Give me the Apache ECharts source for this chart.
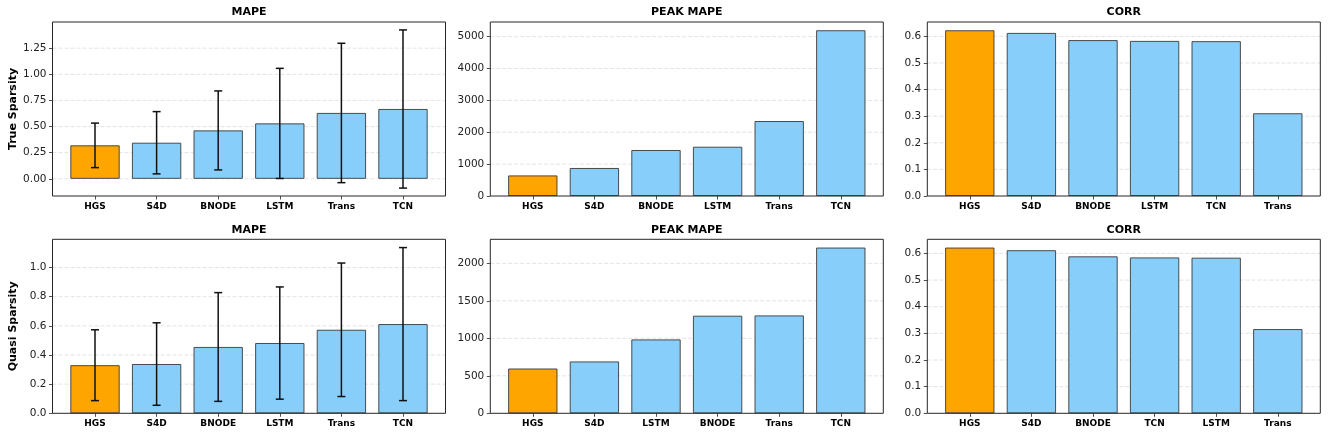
<!DOCTYPE html>
<html>
<head>
<meta charset="utf-8">
<script src="https://cdn.jsdelivr.net/npm/echarts@6/dist/echarts.min.js"></script>
<style>
html,body{margin:0;padding:0;background:#fff;}
#main{width:1328px;height:437px;}
</style>
</head>
<body>
<div id="main"></div>
<script>
// ---------- data ----------
const topMapeCats = ['HGS', 'S4D', 'BNODE', 'LSTM', 'Trans', 'TCN'];
const topMapeMean = [0.320, 0.345, 0.463, 0.530, 0.630, 0.668];
const topMapeErr  = [0.213, 0.298, 0.378, 0.527, 0.667, 0.757];
const topMapeTicks = [0, 0.25, 0.5, 0.75, 1.0, 1.25];

const topPeakCats = ['HGS', 'S4D', 'BNODE', 'LSTM', 'Trans', 'TCN'];
const topPeakVals = [645, 878, 1442, 1545, 2351, 5200];
const topPeakTicks = [0, 1000, 2000, 3000, 4000, 5000];

const topCorrCats = ['HGS', 'S4D', 'BNODE', 'LSTM', 'TCN', 'Trans'];
const topCorrVals = [0.623, 0.613, 0.586, 0.583, 0.582, 0.311];
const corrTicks = [0, 0.1, 0.2, 0.3, 0.4, 0.5, 0.6];

const botMapeCats = ['HGS', 'S4D', 'BNODE', 'LSTM', 'Trans', 'TCN'];
const botMapeMean = [0.330, 0.338, 0.455, 0.482, 0.573, 0.612];
const botMapeErr  = [0.243, 0.283, 0.373, 0.385, 0.458, 0.525];
const botMapeTicks = [0, 0.2, 0.4, 0.6, 0.8, 1.0];

const botPeakCats = ['HGS', 'S4D', 'LSTM', 'BNODE', 'Trans', 'TCN'];
const botPeakVals = [597, 691, 985, 1301, 1305, 2210];
const botPeakTicks = [0, 500, 1000, 1500, 2000];

const botCorrCats = ['HGS', 'S4D', 'BNODE', 'TCN', 'LSTM', 'Trans'];
const botCorrVals = [0.622, 0.612, 0.589, 0.585, 0.584, 0.316];

const rowLabels = ['True Sparsity', 'Quasi Sparsity'];

// ---------- layout ----------
const FONT = 'DejaVu Sans';
const lefts = [52.5, 490.3, 927.3];
const tops = [22, 239.3];
const W = 393, H = 174;
const XMIN = -0.69, XMAX = 5.69;
const barW = W / (XMAX - XMIN) * 0.8;
const ORANGE = '#FFA500', BLUE = '#87CEFA';

const panels = [
  {row:0, col:0, title:'MAPE', cats:topMapeCats, vals:topMapeMean, err:topMapeErr, ticks:topMapeTicks, dec:2},
  {row:0, col:1, title:'PEAK MAPE', cats:topPeakCats, vals:topPeakVals, ticks:topPeakTicks, dec:0},
  {row:0, col:2, title:'CORR', cats:topCorrCats, vals:topCorrVals, ticks:corrTicks, dec:1},
  {row:1, col:0, title:'MAPE', cats:botMapeCats, vals:botMapeMean, err:botMapeErr, ticks:botMapeTicks, dec:1},
  {row:1, col:1, title:'PEAK MAPE', cats:botPeakCats, vals:botPeakVals, ticks:botPeakTicks, dec:0},
  {row:1, col:2, title:'CORR', cats:botCorrCats, vals:botCorrVals, ticks:corrTicks, dec:1}
];

const grid = [], xAxis = [], yAxis = [], series = [], title = [];

panels.forEach((p, k) => {
  // matplotlib-like autoscale with 5% margins (bars sticky at 0)
  let lo = 0, hi = 0;
  p.vals.forEach((v, i) => {
    const e = p.err ? p.err[i] : 0;
    lo = Math.min(lo, v - e);
    hi = Math.max(hi, v + e);
  });
  const r = hi - lo;
  const ymin = lo < 0 ? lo - 0.05 * r : 0;
  const ymax = hi + 0.05 * r;

  grid.push({left: lefts[p.col], top: tops[p.row], width: W, height: H, z: 3,
    show: true, borderColor: '#262626', borderWidth: 1, backgroundColor: 'transparent'});

  title.push({text: p.title, left: lefts[p.col] + W / 2, top: tops[p.row] - 15, textAlign: 'center',
    padding: 0,
    textStyle: {fontFamily: FONT, fontSize: 11, fontWeight: 'bold', color: '#000'}});

  const cats = p.cats;
  xAxis.push({type: 'value', gridIndex: k, min: XMIN, max: XMAX, position: 'bottom',
    axisLine: {show: false, onZero: false}, splitLine: {show: false},
    axisTick: {show: true, customValues: [0,1,2,3,4,5], length: 3.5, lineStyle: {color: '#262626', width: 0.8}},
    axisLabel: {customValues: [0,1,2,3,4,5], formatter: v => cats[Math.round(v)] || '',
      fontFamily: FONT, fontSize: 9, fontWeight: 'bold', color: '#000', margin: 6}});

  const dec = p.dec;
  const y = {type: 'value', gridIndex: k, min: ymin, max: ymax, position: 'left',
    axisLine: {show: false, onZero: false}, splitLine: {show: false},
    axisTick: {show: true, customValues: p.ticks, length: 3.5, lineStyle: {color: '#262626', width: 0.8}},
    axisLabel: {customValues: p.ticks, formatter: v => v.toFixed(dec),
      fontFamily: FONT, fontSize: 10.5, color: '#222', margin: 6}};
  if (p.col === 0) {
    y.name = rowLabels[p.row];
    y.nameLocation = 'middle';
    y.nameGap = 34;
    y.nameTextStyle = {fontFamily: FONT, fontSize: 11, fontWeight: 'bold', color: '#000'};
  }
  yAxis.push(y);

  // gridlines (skip one that lies on the frame)
  series.push({type: 'custom', xAxisIndex: k, yAxisIndex: k, z: 0, silent: true,
    data: p.ticks.filter(t => t > ymin).map(t => [t]),
    encode: {y: 0},
    renderItem: (params, api) => {
      const cs = params.coordSys;
      const py = api.coord([0, api.value(0)])[1];
      return {type: 'line', shape: {x1: cs.x, y1: py, x2: cs.x + cs.width, y2: py},
        style: {stroke: '#dcdcdc', lineWidth: 0.8, lineDash: [4, 2]}};
    }});

  // bars
  series.push({type: 'bar', xAxisIndex: k, yAxisIndex: k, z: 2, barWidth: barW,
    data: p.vals.map((v, i) => ({value: [i, v],
      itemStyle: {color: i === 0 ? ORANGE : BLUE, borderColor: '#3a3a3a', borderWidth: 0.9}}))});

  // error bars
  if (p.err) {
    series.push({type: 'custom', xAxisIndex: k, yAxisIndex: k, z: 5, silent: true,
      data: p.vals.map((v, i) => [i, v, p.err[i]]),
      encode: {x: 0, y: 1},
      renderItem: (params, api) => {
        const x = api.value(0), m = api.value(1), e = api.value(2);
        const a = api.coord([x, m + e]), b = api.coord([x, m - e]);
        const cap = 4;
        const st = {stroke: '#111', lineWidth: 1.5};
        return {type: 'group', children: [
          {type: 'line', shape: {x1: a[0], y1: a[1], x2: b[0], y2: b[1]}, style: st},
          {type: 'line', shape: {x1: a[0] - cap, y1: a[1], x2: a[0] + cap, y2: a[1]}, style: st},
          {type: 'line', shape: {x1: b[0] - cap, y1: b[1], x2: b[0] + cap, y2: b[1]}, style: st}
        ]};
      }});
  }
});

const chart = echarts.init(document.getElementById('main'), null, {renderer: 'canvas'});
chart.setOption({
  backgroundColor: '#fff',
  animation: false,
  title, grid, xAxis, yAxis, series
});
</script>
</body>
</html>
